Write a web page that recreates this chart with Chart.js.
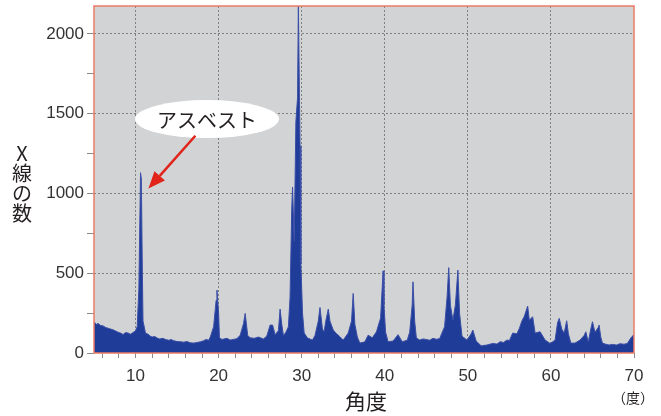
<!DOCTYPE html>
<html lang="ja">
<head>
<meta charset="UTF-8">
<title>アスベストのX線回折パターン</title>
<script src="https://cdn.jsdelivr.net/npm/chart.js@4.4.0/dist/chart.umd.min.js"></script>
<style>
    * { margin: 0; padding: 0; box-sizing: border-box; }
    body { background: #fff; width: 661px; height: 416px; overflow: hidden; }
    .chart-box { position: relative; width: 661px; height: 416px; }
</style>
</head>
<body>
<div class="chart-box"><canvas id="xrdChart"></canvas></div>
<script>
// 角度 (2θ, 度)
const angles = [
    5.0, 5.3, 5.5, 5.8, 6.1, 6.4, 6.7, 7.0, 7.3, 7.6,
    7.9, 8.2, 8.5, 8.8, 9.1, 9.4, 9.7, 10.0, 10.2, 10.4,
    10.6, 10.7, 10.8, 10.9, 11.2, 11.5, 11.8, 12.0, 12.3, 12.6,
    12.9, 13.3, 13.6, 14.0, 14.3, 14.6, 15.0, 15.5, 15.8, 16.2,
    16.6, 17.0, 17.4, 17.8, 18.2, 18.5, 18.8, 19.0, 19.4, 19.7,
    19.8, 20.0, 20.1, 20.4, 21.0, 21.4, 22.2, 22.6, 23.0, 23.2,
    23.5, 23.8, 24.3, 24.8, 25.4, 25.8, 26.2, 26.5, 26.8, 27.2,
    27.4, 27.6, 27.8, 28.1, 28.4, 28.6, 28.8, 28.9, 29.1, 29.3,
    29.5, 29.6, 29.8, 29.9, 30.1, 30.3, 30.7, 31.3, 31.6, 32.0,
    32.2, 32.5, 32.7, 32.9, 33.2, 33.4, 33.8, 34.1, 34.6, 35.0,
    35.6, 36.0, 36.2, 36.4, 36.7, 37.0, 37.6, 38.0, 38.5, 39.0,
    39.5, 39.8, 39.9, 40.1, 40.4, 41.0, 41.6, 42.1, 42.7, 43.0,
    43.3, 43.4, 43.6, 43.8, 44.2, 44.6, 45.0, 45.4, 45.8, 46.2,
    46.6, 47.2, 47.5, 47.7, 47.9, 48.2, 48.5, 48.8, 49.0, 49.3,
    49.9, 50.4, 50.6, 51.0, 51.6, 52.3, 53.0, 53.5, 53.9, 54.3,
    54.7, 55.0, 55.4, 55.9, 56.2, 56.5, 56.8, 57.2, 57.4, 57.8,
    58.1, 58.7, 59.3, 59.9, 60.5, 60.8, 61.0, 61.3, 61.6, 61.9,
    62.1, 62.4, 62.9, 63.5, 64.0, 64.2, 64.5, 64.8, 65.0, 65.3,
    65.7, 65.8, 66.0, 66.2, 66.6, 67.0, 67.4, 67.9, 68.3, 68.8,
    69.2, 69.7, 70.0
];

// X線の数
const counts = [
    195, 180, 185, 172, 170, 160, 155, 150, 145, 138,
    130, 125, 116, 128, 125, 118, 128, 140, 165, 400,
    1130, 1090, 600, 200, 125, 118, 105, 100, 104, 94,
    88, 92, 85, 80, 84, 77, 72, 70, 68, 72,
    64, 62, 66, 70, 77, 85, 80, 100, 165, 330,
    394, 250, 95, 85, 92, 81, 90, 112, 185, 248,
    110, 95, 92, 100, 88, 106, 175, 175, 115, 140,
    275, 180, 110, 130, 165, 350, 900, 1040, 700, 1450,
    1600, 2180, 1300, 560, 250, 125, 94, 81, 110, 200,
    285, 150, 133, 200, 275, 200, 144, 125, 102, 81,
    125, 200, 373, 180, 100, 62, 70, 112, 95, 133,
    220, 515, 300, 130, 71, 75, 115, 71, 80, 130,
    300, 446, 200, 95, 81, 88, 85, 80, 92, 86,
    90, 165, 350, 535, 300, 206, 300, 519, 250, 105,
    81, 120, 144, 75, 45, 50, 60, 56, 71, 66,
    81, 78, 125, 120, 154, 200, 230, 294, 206, 227,
    125, 133, 81, 60, 80, 190, 217, 150, 125, 202,
    120, 62, 62, 81, 110, 133, 70, 150, 196, 130,
    160, 175, 100, 62, 55, 50, 54, 50, 58, 55,
    60, 100, 115
];

const xTickLabels = [10, 20, 30, 40, 50, 60, 70];
const yTickLabels = [0, 500, 1000, 1500, 2000];
const yTitleChars = ['X', '線', 'の', '数'];
const xTitle = '角度';
const xUnit = '（度）';
const calloutText = 'アスベスト';

const numFont = '"Liberation Sans", Arial, sans-serif';
const jpFont = '"Noto Sans CJK JP", sans-serif';

const points = angles.map((a, i) => ({ x: a, y: counts[i] }));

const decor = {
    id: 'decor',
    beforeDraw(chart) {
        const { ctx, chartArea: a } = chart;
        ctx.save();
        ctx.fillStyle = '#d1d3d4';
        ctx.fillRect(a.left, a.top, a.right - a.left, a.bottom - a.top);
        ctx.restore();
    },
    afterDraw(chart) {
        const { ctx, chartArea: a, scales } = chart;
        const xs = scales.x, ys = scales.y;
        ctx.save();

        // plot frame
        ctx.strokeStyle = '#ee7b63';
        ctx.lineWidth = 1.5;
        ctx.strokeRect(a.left, a.top, a.right - a.left, a.bottom - a.top);

        // axis titles
        ctx.fillStyle = '#231f20';
        ctx.textAlign = 'center';
        ctx.textBaseline = 'middle';
        ctx.font = '20px ' + jpFont;
        yTitleChars.forEach((c, i) => ctx.fillText(c, 22, 153 + i * 20));
        ctx.font = '21px ' + jpFont;
        ctx.fillText(xTitle, 366, 401);
        ctx.font = '14px ' + jpFont;
        ctx.fillText(xUnit, 633, 398);

        // callout bubble
        const cx = xs.getPixelForValue(18.6), cy = ys.getPixelForValue(1466);
        ctx.fillStyle = '#ffffff';
        ctx.beginPath();
        ctx.ellipse(cx, cy, 72, 19, 0, 0, Math.PI * 2);
        ctx.fill();
        ctx.fillStyle = '#231f20';
        ctx.font = '20px ' + jpFont;
        ctx.fillText(calloutText, cx, cy + 1);

        // arrow to the asbestos peak
        const x1 = xs.getPixelForValue(17.2), y1 = ys.getPixelForValue(1362);
        const x2 = xs.getPixelForValue(11.55), y2 = ys.getPixelForValue(1031);
        const ang = Math.atan2(y2 - y1, x2 - x1);
        const head = 17, half = 7;
        ctx.strokeStyle = '#e2231a';
        ctx.fillStyle = '#e2231a';
        ctx.lineWidth = 2.5;
        ctx.beginPath();
        ctx.moveTo(x1, y1);
        ctx.lineTo(x2 - Math.cos(ang) * head, y2 - Math.sin(ang) * head);
        ctx.stroke();
        ctx.beginPath();
        ctx.moveTo(x2, y2);
        ctx.lineTo(x2 - Math.cos(ang) * head - Math.sin(ang) * half, y2 - Math.sin(ang) * head + Math.cos(ang) * half);
        ctx.lineTo(x2 - Math.cos(ang) * head + Math.sin(ang) * half, y2 - Math.sin(ang) * head - Math.cos(ang) * half);
        ctx.closePath();
        ctx.fill();

        ctx.restore();
    }
};

new Chart(document.getElementById('xrdChart'), {
    type: 'line',
    data: {
        datasets: [{
            data: points,
            fill: 'origin',
            backgroundColor: '#1f3c98',
            borderColor: '#3b4ea8',
            borderWidth: 1,
            pointRadius: 0,
            tension: 0
        }]
    },
    options: {
        responsive: true,
        maintainAspectRatio: false,
        animation: false,
        layout: { padding: { left: 0, right: 27, top: 6, bottom: 0 } },
        plugins: { legend: { display: false }, tooltip: { enabled: false } },
        scales: {
            x: {
                type: 'linear',
                min: 5,
                max: 70,
                afterBuildTicks: s => {
                    const t = [];
                    for (let v = 6; v <= 70; v += 2) t.push({ value: v });
                    s.ticks = t;
                },
                afterFit: s => {
                    s.height = 63;
                    s.paddingLeft = 0; s.paddingRight = 0;
                },
                grid: {
                    color: c => (c.tick && c.tick.value % 10 === 0 && c.tick.value < 70) ? '#7f7f7f' : 'rgba(0,0,0,0)',
                    lineWidth: 1,
                    tickLength: 5,
                    tickColor: '#8a8a8a'
                },
                border: { display: false, dash: [2, 2] },
                ticks: {
                    autoSkip: false,
                    maxRotation: 0,
                    padding: 8,
                    color: '#333',
                    font: { family: numFont, size: 17 },
                    callback: v => xTickLabels.includes(v) ? String(v) : ''
                }
            },
            y: {
                min: 0,
                max: 2175,
                afterBuildTicks: s => {
                    const t = [];
                    for (let v = 0; v <= 2000; v += 250) t.push({ value: v });
                    s.ticks = t;
                },
                afterFit: s => {
                    s.width = 94;
                    s.paddingTop = 0; s.paddingBottom = 0;
                },
                grid: {
                    color: c => (c.tick && c.tick.value % 500 === 0 && c.tick.value > 0) ? '#7f7f7f' : 'rgba(0,0,0,0)',
                    lineWidth: 1,
                    tickLength: 7,
                    tickColor: '#8a8a8a'
                },
                border: { display: false, dash: [2, 2] },
                ticks: {
                    padding: 3,
                    color: '#333',
                    font: { family: numFont, size: 17 },
                    callback: v => yTickLabels.includes(v) ? String(v) : ''
                }
            }
        }
    },
    plugins: [decor]
});
</script>
</body>
</html>
